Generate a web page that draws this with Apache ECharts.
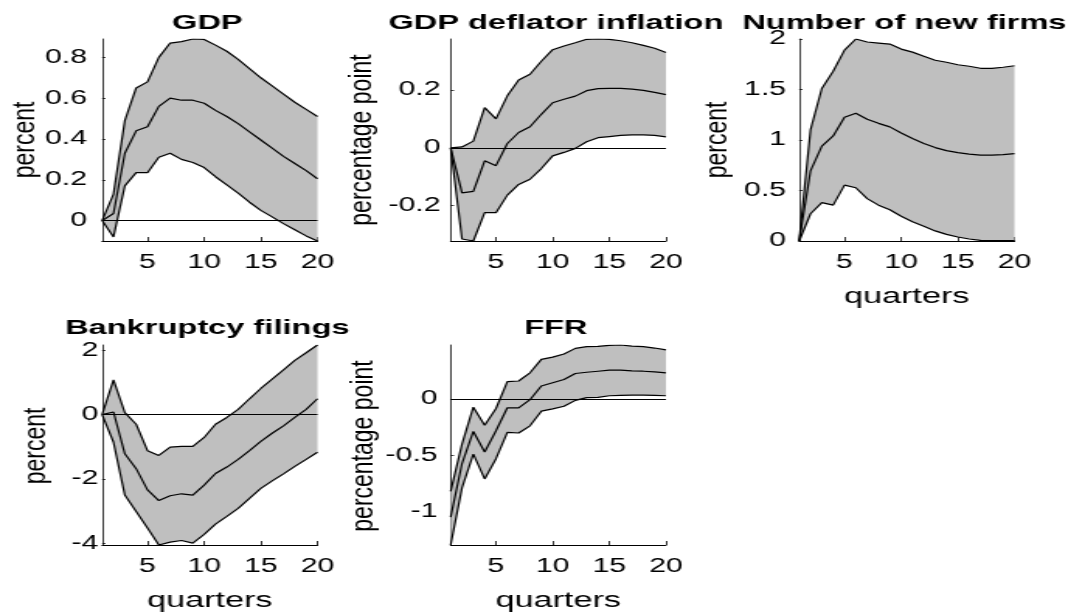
<!DOCTYPE html>
<html>
<head>
<meta charset="utf-8">
<script src="https://cdn.jsdelivr.net/npm/echarts@6/dist/echarts.min.js"></script>
<style>
  html, body { margin: 0; padding: 0; background: #fff; overflow: hidden; }
  #wrap { width: 1066px; height: 613px; overflow: hidden; }
  #chart { height: 613px; transform-origin: 0 0; }
</style>
</head>
<body>
<div id="wrap"><div id="chart"></div></div>
<script>
// Impulse responses over 20 quarters: median with upper/lower bands
const quarters = Array.from({ length: 20 }, (_, i) => String(i + 1));
const xTicks = [5, 10, 15, 20];

const gdpUpper  = [0, 0.13, 0.49, 0.65, 0.68, 0.80, 0.87, 0.877, 0.89, 0.888, 0.86, 0.83, 0.79, 0.745, 0.70, 0.66, 0.62, 0.58, 0.545, 0.51];
const gdpMedian = [0, 0.035, 0.33, 0.44, 0.46, 0.56, 0.60, 0.59, 0.59, 0.575, 0.54, 0.51, 0.475, 0.435, 0.395, 0.355, 0.315, 0.28, 0.245, 0.205];
const gdpLower  = [0, -0.08, 0.17, 0.235, 0.235, 0.31, 0.33, 0.30, 0.285, 0.26, 0.215, 0.175, 0.135, 0.09, 0.05, 0.018, -0.015, -0.045, -0.075, -0.10];
const gdpTicks  = [0, 0.2, 0.4, 0.6, 0.8];

const infUpper  = [0, 0.003, 0.023, 0.139, 0.10, 0.18, 0.235, 0.255, 0.30, 0.34, 0.353, 0.364, 0.376, 0.377, 0.376, 0.371, 0.364, 0.355, 0.345, 0.33];
const infMedian = [0, -0.156, -0.151, -0.045, -0.062, 0.015, 0.053, 0.073, 0.116, 0.156, 0.168, 0.179, 0.198, 0.205, 0.206, 0.206, 0.203, 0.199, 0.192, 0.184];
const infLower  = [0, -0.316, -0.323, -0.225, -0.225, -0.164, -0.127, -0.109, -0.072, -0.028, -0.016, -0.002, 0.021, 0.035, 0.039, 0.043, 0.045, 0.045, 0.043, 0.038];
const infTicks  = [-0.2, 0, 0.2];

const firmsUpper  = [0, 1.10, 1.51, 1.68, 1.89, 2.0, 1.97, 1.96, 1.95, 1.90, 1.87, 1.83, 1.79, 1.77, 1.745, 1.73, 1.71, 1.71, 1.72, 1.735];
const firmsMedian = [0, 0.695, 0.94, 1.04, 1.225, 1.265, 1.205, 1.165, 1.13, 1.07, 1.015, 0.965, 0.925, 0.895, 0.875, 0.86, 0.85, 0.85, 0.855, 0.865];
const firmsLower  = [0, 0.27, 0.38, 0.355, 0.553, 0.527, 0.42, 0.355, 0.31, 0.245, 0.19, 0.145, 0.10, 0.066, 0.04, 0.02, 0.007, 0.003, 0.003, 0.003];
const firmsTicks  = [0, 0.5, 1, 1.5, 2];

const bankUpper  = [0, 1.08, 0.06, -0.30, -1.12, -1.27, -1.01, -0.99, -0.99, -0.71, -0.30, -0.09, 0.16, 0.49, 0.81, 1.10, 1.39, 1.68, 1.92, 2.16];
const bankMedian = [0, 0.08, -1.22, -1.68, -2.34, -2.67, -2.52, -2.46, -2.50, -2.19, -1.83, -1.63, -1.39, -1.12, -0.83, -0.58, -0.35, -0.09, 0.16, 0.49];
const bankLower  = [0, -0.86, -2.50, -3.01, -3.52, -4.05, -3.96, -3.91, -3.99, -3.72, -3.40, -3.16, -2.91, -2.60, -2.29, -2.06, -1.84, -1.61, -1.39, -1.17];
const bankTicks  = [-4, -2, 0, 2];

const ffrUpper  = [-0.82, -0.40, -0.073, -0.233, -0.084, 0.154, 0.16, 0.233, 0.352, 0.372, 0.40, 0.45, 0.465, 0.468, 0.477, 0.48, 0.47, 0.465, 0.453, 0.436];
const ffrMedian = [-1.05, -0.573, -0.288, -0.471, -0.282, -0.078, -0.078, -0.006, 0.116, 0.145, 0.174, 0.227, 0.238, 0.247, 0.256, 0.256, 0.25, 0.247, 0.241, 0.233];
const ffrLower  = [-1.297, -0.79, -0.49, -0.71, -0.53, -0.297, -0.302, -0.238, -0.108, -0.087, -0.064, -0.012, 0.012, 0.015, 0.029, 0.032, 0.035, 0.035, 0.032, 0.029];
const ffrTicks  = [-1, -0.5, 0];

// The figure uses a wide type face: the canvas is laid out narrower and stretched horizontally.
const SX = 1.55;
const W = 1066 / SX;
const FONT = '"Liberation Sans", Arial, Helvetica, sans-serif';
const colLeft = [102, 450, 798];   // plot left edges (output pixels)
const rowTop = [39, 345];
const plotW = 215, plotH = 202;

const panels = [
  { title: 'GDP', ylab: 'percent', hi: gdpUpper, mid: gdpMedian, lo: gdpLower, ticks: gdpTicks, col: 0, row: 0, labelGap: 15, ylabX: 25, xname: false },
  { title: 'GDP deflator inflation', ylab: 'percentage point', hi: infUpper, mid: infMedian, lo: infLower, ticks: infTicks, col: 1, row: 0, labelGap: 10, ylabX: 362.5, xname: false },
  { title: 'Number of new firms', ylab: 'percent', hi: firmsUpper, mid: firmsMedian, lo: firmsLower, ticks: firmsTicks, col: 2, row: 0, labelGap: 13, ylabX: 717, xname: true },
  { title: 'Bankruptcy filings', ylab: 'percent', hi: bankUpper, mid: bankMedian, lo: bankLower, ticks: bankTicks, col: 0, row: 1, labelGap: 4, ylabX: 36, xname: true },
  { title: 'FFR', ylab: 'percentage point', hi: ffrUpper, mid: ffrMedian, lo: ffrLower, ticks: ffrTicks, col: 1, row: 1, labelGap: 13, ylabX: 364, xname: true }
];

const el = document.getElementById('chart');
el.style.width = W + 'px';
el.style.transform = 'scaleX(' + SX + ')';

const grid = [], xAxis = [], yAxis = [], series = [], graphic = [];
const showTick = (idx, val) => xTicks.indexOf(Number(val)) >= 0;

panels.forEach((p, i) => {
  const left = colLeft[p.col] / SX;
  const top = rowTop[p.row];
  const width = plotW / SX;
  grid.push({ left: left, top: top, width: width, height: plotH, containLabel: false });

  xAxis.push({
    type: 'category', gridIndex: i, data: quarters, boundaryGap: false,
    axisLine: { show: true, onZero: false, lineStyle: { color: '#000', width: 1 } },
    axisTick: { show: true, inside: true, length: 4, interval: showTick, lineStyle: { color: '#000', width: 0.8 } },
    axisLabel: { interval: showTick, color: '#000', fontFamily: FONT, fontSize: 19.5, margin: 22, verticalAlign: 'middle' },
    splitLine: { show: false },
    name: p.xname ? 'quarters' : '',
    nameLocation: 'middle', nameGap: 56,
    nameTextStyle: { color: '#000', fontFamily: FONT, fontSize: 22, verticalAlign: 'middle' }
  });

  yAxis.push({
    type: 'value', gridIndex: i,
    min: Math.min.apply(null, p.lo),
    max: Math.max.apply(null, p.hi),
    axisLine: { show: true, lineStyle: { color: '#000', width: 0.75 } },
    axisTick: { show: true, inside: true, length: 2.2, customValues: p.ticks, lineStyle: { color: '#000', width: 0.75 } },
    axisLabel: { customValues: p.ticks, color: '#000', fontFamily: FONT, fontSize: 19.5, margin: p.labelGap / SX },
    splitLine: { show: false }
  });

  const stackId = 'band' + i;
  series.push({
    type: 'line', xAxisIndex: i, yAxisIndex: i, data: p.lo, stack: stackId, stackStrategy: 'all',
    symbol: 'none', silent: true, lineStyle: { opacity: 0 }, z: 1
  });
  series.push({
    type: 'line', xAxisIndex: i, yAxisIndex: i, data: p.hi.map((v, j) => v - p.lo[j]),
    stack: stackId, stackStrategy: 'all', symbol: 'none', silent: true,
    lineStyle: { opacity: 0 }, areaStyle: { color: '#bfbfbf', opacity: 1 }, z: 1
  });
  [p.hi, p.lo].forEach(d => series.push({
    type: 'line', xAxisIndex: i, yAxisIndex: i, data: d, symbol: 'none', silent: true,
    lineStyle: { color: '#000', width: 1.2 }, z: 3
  }));
  series.push({
    type: 'line', xAxisIndex: i, yAxisIndex: i, data: p.mid, symbol: 'none', silent: true,
    lineStyle: { color: '#000', width: 1.2 }, z: 3,
    markLine: {
      silent: true, symbol: 'none', label: { show: false }, animation: false,
      lineStyle: { color: '#000', width: 1, type: 'solid' },
      data: [{ yAxis: 0 }]
    }
  });

  // panel title
  graphic.push({
    type: 'text', x: (colLeft[p.col] + plotW / 2 - 2.5) / SX, y: p.row === 0 ? 23 : 328, silent: true,
    style: { text: p.title, fill: '#000', font: 'bold 21px ' + FONT, align: 'center', verticalAlign: 'middle', textAlign: 'center', textVerticalAlign: 'middle' }
  });
  // vertical axis title, compressed across its thickness
  graphic.push({
    type: 'text', x: p.ylabX / SX, y: top + plotH / 2, rotation: Math.PI / 2, scaleX: 1, scaleY: 0.85, silent: true,
    style: { text: p.ylab, fill: '#000', font: '23px ' + FONT, align: 'center', verticalAlign: 'middle', textAlign: 'center', textVerticalAlign: 'middle' }
  });
});

const chart = echarts.init(el, null, { renderer: 'canvas', width: W, height: 613 });
chart.setOption({
  backgroundColor: '#fff',
  animation: false,
  grid: grid,
  xAxis: xAxis,
  yAxis: yAxis,
  series: series,
  graphic: graphic
});
</script>
</body>
</html>
